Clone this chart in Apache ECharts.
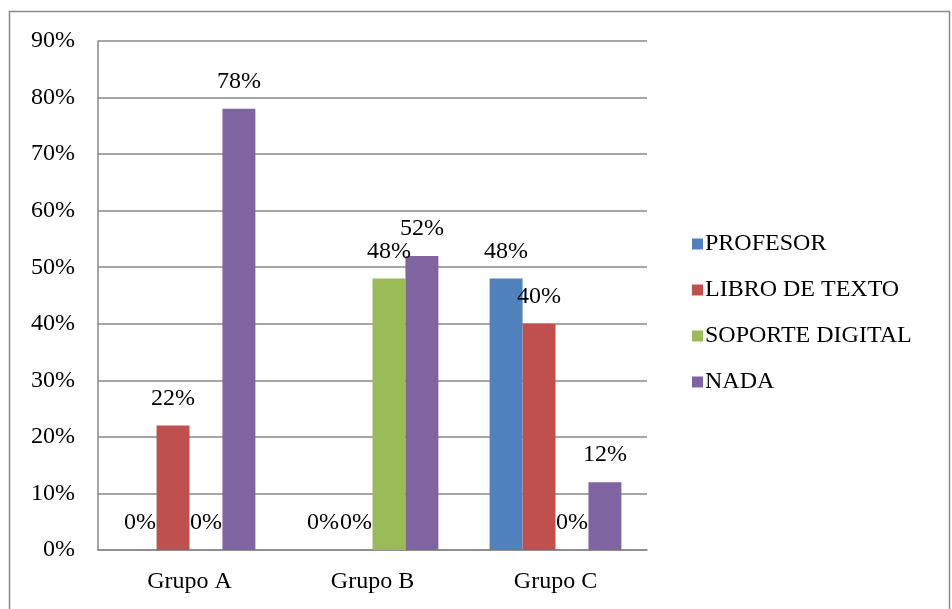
<!DOCTYPE html>
<html><head><meta charset="utf-8">
<script src="https://cdn.jsdelivr.net/npm/echarts@6/dist/echarts.min.js"></script>
<style>html,body{margin:0;padding:0;background:#fff}#c{width:952px;height:609px}</style>
</head><body><div id="c"></div>
<script>
const categories = ['Grupo A', 'Grupo B', 'Grupo C'];
const seriesNames = ['PROFESOR', 'LIBRO DE TEXTO', 'SOPORTE DIGITAL', 'NADA'];
const profesor = [0, 0, 48];
const libro = [22, 0, 40];
const soporte = [0, 48, 0];
const nada = [78, 52, 12];
const colors = ['#4F81BD', '#C0504D', '#9BBB59', '#8064A2'];
const values = [profesor, libro, soporte, nada];

const font = '"Liberation Serif", "Times New Roman", serif';
const chart = echarts.init(document.getElementById('c'));
chart.setOption({
  animation: false,
  textStyle: { fontFamily: font },
  graphic: [{ type: 'rect', shape: { x: 9.5, y: 11.5, width: 940, height: 610 }, style: { fill: 'none', stroke: '#888', lineWidth: 1.5 }, silent: true }],
  grid: { left: 98, right: 305, top: 41, bottom: 59 },
  legend: {
    orient: 'vertical', left: 687, top: 227, itemWidth: 11, itemHeight: 11, itemGap: 22,
    icon: 'rect',
    textStyle: { fontFamily: font, fontSize: 24, color: '#000', padding: [0, 0, 0, -3] },
    data: seriesNames
  },
  xAxis: {
    type: 'category', data: categories,
    axisLine: { lineStyle: { color: '#888', width: 1.5 } },
    axisTick: { show: false },
    axisLabel: { fontFamily: font, fontSize: 24, color: '#000', margin: 20 }
  },
  yAxis: {
    type: 'value', min: 0, max: 90, interval: 10,
    axisLine: { show: true, lineStyle: { color: '#888', width: 1.5 } },
    axisTick: { show: false },
    splitLine: { lineStyle: { color: '#888', width: 1.5 } },
    axisLabel: { fontFamily: font, fontSize: 24, color: '#000', margin: 23, formatter: '{value}%' }
  },
  series: seriesNames.map((n, i) => ({
    name: n, type: 'bar', data: values[i], barGap: '0%', barCategoryGap: '28%',
    itemStyle: { color: colors[i] },
    label: { show: true, position: 'top', distance: 15, formatter: '{c}%', fontFamily: font, fontSize: 24, color: '#000' }
  }))
});
</script></body></html>
